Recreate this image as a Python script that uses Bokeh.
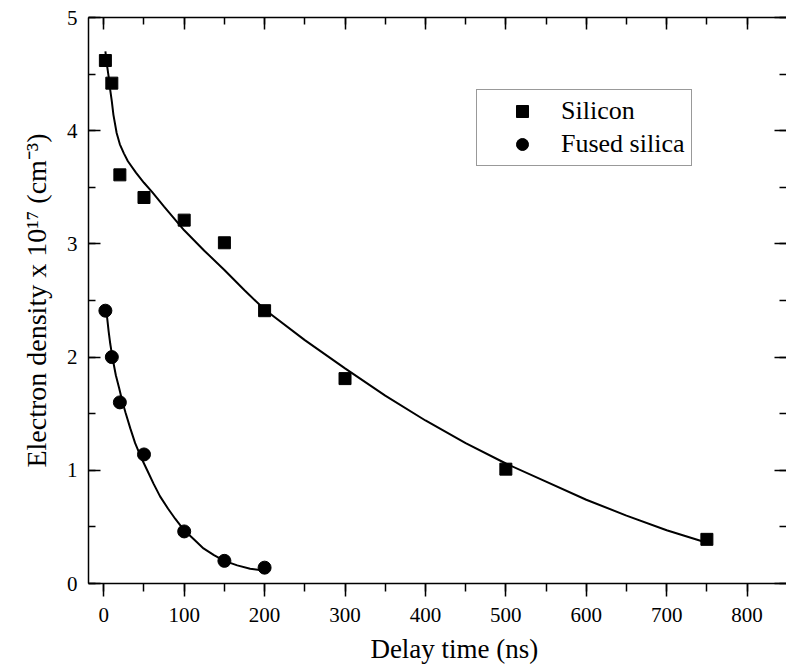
from bokeh.plotting import figure
from bokeh.models import Range1d, LinearAxis, SingleIntervalTicker
from bokeh.embed import file_html
from bokeh.resources import INLINE

FONT = "Liberation Serif"

# measured data
si_x = [2, 10, 20, 50, 100, 150, 200, 300, 500, 750]
si_y = [4.62, 4.42, 3.61, 3.41, 3.21, 3.01, 2.41, 1.81, 1.01, 0.39]
fs_x = [2, 10, 20, 50, 100, 150, 200]
fs_y = [2.41, 2.00, 1.60, 1.14, 0.46, 0.20, 0.14]

# fitted curves
si_fit_x = [2, 4, 6, 8, 10, 12, 16, 20, 25, 30, 40, 50, 60, 75, 100, 125, 150,
            175, 200, 250, 300, 350, 400, 450, 500, 550, 600, 650, 700, 750]
si_fit_y = [4.70, 4.58, 4.48, 4.36, 4.26, 4.14, 3.98, 3.88, 3.80, 3.73, 3.63,
            3.54, 3.46, 3.33, 3.12, 2.94, 2.77, 2.59, 2.42, 2.15, 1.90, 1.66,
            1.44, 1.24, 1.06, 0.90, 0.74, 0.60, 0.47, 0.36]
fs_fit_x = [3, 4, 6, 8, 10, 12, 15, 19, 23, 27, 33, 39, 46, 54, 62, 70, 80, 89,
            100, 112, 124, 137, 150, 166, 182, 199]
fs_fit_y = [2.40, 2.36, 2.23, 2.12, 2.03, 1.95, 1.84, 1.73, 1.61, 1.51, 1.37,
            1.24, 1.12, 1.00, 0.88, 0.77, 0.66, 0.57, 0.47, 0.39, 0.31, 0.25,
            0.20, 0.16, 0.13, 0.115]

x_title = "\u00a0" * 5 + "Delay time (ns)"
y_title = "Electron density x 10\u00b9\u2077 (cm\u207b\u00b3)"

p = figure(width=786, height=671,
           x_range=Range1d(-19, 849), y_range=Range1d(0, 5),
           output_backend="svg", toolbar_location=None,
           min_border_left=88, min_border_right=0,
           min_border_top=17, min_border_bottom=88,
           x_axis_label=x_title, y_axis_label=y_title)
p.xgrid.visible = False
p.ygrid.visible = False
p.outline_line_color = None
p.background_fill_color = "white"
p.border_fill_color = "white"

def style(ax, tin, tout, mtin, mtout, title_size="27px"):
    ax.axis_line_color = "black"
    ax.axis_line_width = 1.5
    ax.major_tick_line_width = 1.5
    ax.minor_tick_line_width = 1.5
    ax.major_tick_line_color = "black"
    ax.minor_tick_line_color = "black"
    ax.major_tick_in = tin
    ax.major_tick_out = tout
    ax.minor_tick_in = mtin
    ax.minor_tick_out = mtout
    ax.major_label_text_font = FONT
    ax.major_label_text_font_size = "21px"
    ax.major_label_text_color = "black"
    ax.axis_label_text_font = FONT
    ax.axis_label_text_font_size = title_size
    ax.axis_label_text_font_style = "normal"
    ax.axis_label_text_color = "black"

xt = SingleIntervalTicker(interval=100, num_minor_ticks=2)
yt = SingleIntervalTicker(interval=1, num_minor_ticks=2)

xa = p.xaxis[0]
xa.ticker = xt
style(xa, 0, 13, 0, 8, "27px")
xa.major_label_standoff = 11
xa.axis_label_standoff = 9

ya = p.yaxis[0]
ya.ticker = yt
style(ya, 12, 0, 7, 0, "28px")
ya.major_label_standoff = 11
ya.axis_label_standoff = 12

top = LinearAxis(ticker=SingleIntervalTicker(interval=100, num_minor_ticks=2))
style(top, 12, 0, 7, 0)
top.major_label_text_font_size = "0px"
top.major_label_text_color = None
top.major_label_standoff = 0
p.add_layout(top, "above")

right = LinearAxis(ticker=SingleIntervalTicker(interval=1, num_minor_ticks=2))
style(right, 12, 0, 7, 0)
right.axis_line_color = None
right.major_label_text_font_size = "0px"
right.major_label_text_color = None
right.major_label_standoff = 0
p.add_layout(right, "right")

p.line(si_fit_x, si_fit_y, line_color="black", line_width=2)
p.line(fs_fit_x, fs_fit_y, line_color="black", line_width=2)
p.scatter(si_x, si_y, marker="square", size=12, color="black", legend_label="Silicon")
p.scatter(fs_x, fs_y, marker="circle", size=13, color="black", legend_label="Fused silica")

lg = p.legend[0]
lg.location = (388, 417)
lg.label_text_font = FONT
lg.label_text_font_size = "26px"
lg.label_text_color = "black"
lg.glyph_width = 78
lg.glyph_height = 30
lg.label_standoff = 0
lg.padding = 6
lg.spacing = 3
lg.margin = 0
lg.border_line_color = "#333333"
lg.border_line_width = 1
lg.background_fill_color = "white"
lg.background_fill_alpha = 1.0

open("out.html", "w").write(file_html(p, INLINE))
